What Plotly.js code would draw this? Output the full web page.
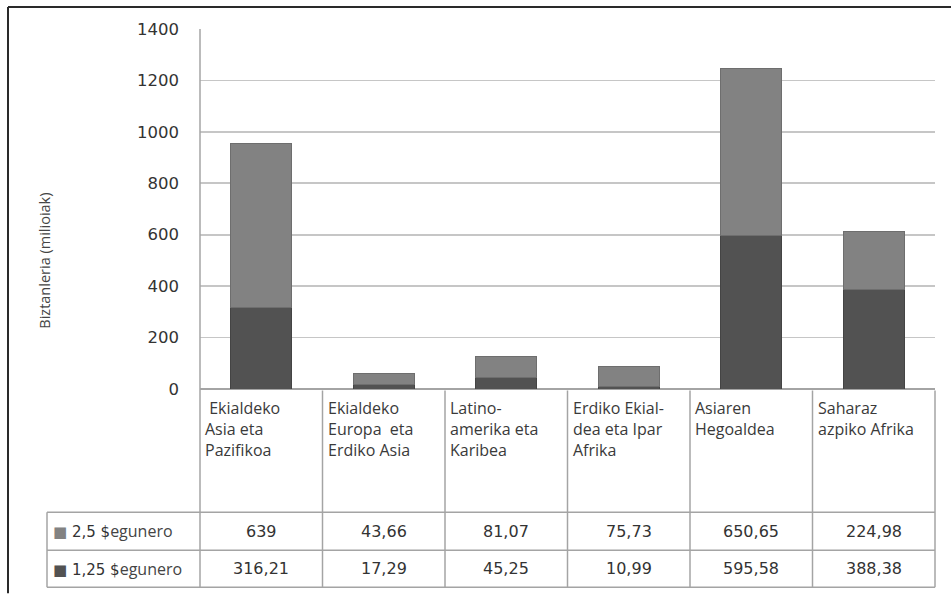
<!DOCTYPE html>
<html>
<head>
<meta charset="utf-8">
<script src="https://cdn.plot.ly/plotly-3.0.1.min.js"></script>
<style>html,body{margin:0;padding:0;background:#fff;}#chart{width:951px;height:594px;}</style>
</head>
<body>
<div id="chart"></div>
<script>
// ---- data ----
var categories = [
  ' Ekialdeko<br>Asia eta<br>Pazifikoa',
  'Ekialdeko<br>Europa  eta<br>Erdiko Asia',
  'Latino-<br>amerika eta<br>Karibea',
  'Erdiko Ekial-<br>dea eta Ipar<br>Afrika',
  'Asiaren<br>Hegoaldea',
  'Saharaz<br>azpiko Afrika'
];
var seriesAmounts = ['2,5 $', '1,25 $'];
var seriesUnit = 'egunero';
var values25 = [639, 43.66, 81.07, 75.73, 650.65, 224.98];
var values125 = [316.21, 17.29, 45.25, 10.99, 595.58, 388.38];
var yTicks = [0, 200, 400, 600, 800, 1000, 1200, 1400];
var yTitle = 'Biztanleria (milioiak)';

// ---- layout helpers (pixel -> paper) ----
var W = 951, H = 594;
var L = 200, R = 935, T = 29, B = 389.5;
function px(x) { return (x - L) / (R - L); }
function py(y) { return (B - y) / (B - T); }

var colTop = '#828282', colBot = '#525252';
var fmt = function (v) { return String(v).replace('.', ','); };
var n = categories.length;
var xs = categories.map(function (c, i) { return i; });

var traces = [
  { type: 'bar', x: xs, y: values125, name: seriesAmounts[1] + ' ' + seriesUnit,
    marker: { color: colBot, line: { color: '#444444', width: 1 } }, width: 0.5, hoverinfo: 'y' },
  { type: 'bar', x: xs, y: values25, name: seriesAmounts[0] + ' ' + seriesUnit,
    marker: { color: colTop, line: { color: '#6e6e6e', width: 1 } }, width: 0.5, hoverinfo: 'y' }
];

var lineCol = '#a4a4a4';
var shapes = [];
function seg(x0, y0, x1, y1, col, w) {
  shapes.push({ type: 'line', xref: 'paper', yref: 'paper',
    x0: px(x0), y0: py(y0), x1: px(x1), y1: py(y1),
    line: { color: col || lineCol, width: w || 1.5 } });
}
// outer frame
seg(8, 7, 951, 7, '#2a2a2a', 2);
seg(8, 7, 8, 594, '#2a2a2a', 2);
// plot left border
seg(L, T, L, 588);
// table
for (var i = 1; i <= n; i++) {
  var xx = L + (R - L) * i / n;
  seg(xx, 391, xx, 588);
}
seg(47, 513, 47, 588);
seg(47, 513, R, 513);
seg(47, 551, R, 551);
seg(47, 588, R, 588);

var annotations = [];
// y title
annotations.push({ xref: 'paper', yref: 'paper', x: px(45), y: py(261), text: yTitle,
  textangle: -90, showarrow: false, xanchor: 'center', yanchor: 'middle',
  font: { family: 'Open Sans', size: 14.5, color: '#444444' } });
// category labels
categories.forEach(function (c, i) {
  annotations.push({ xref: 'paper', yref: 'paper', x: i / n, y: py(396), text: c,
    showarrow: false, xanchor: 'left', yanchor: 'top', align: 'left', xshift: 3,
    font: { family: 'Open Sans', size: 16, color: '#3a3a3a' } });
});
// values rows
var rows = [values25, values125];
var rowCenters = [532, 569.5];
var swatch = [colTop, colBot];
rows.forEach(function (vals, r) {
  vals.forEach(function (v, i) {
    annotations.push({ xref: 'paper', yref: 'paper', x: (i + 0.5) / n, y: py(rowCenters[r]),
      text: fmt(v), showarrow: false, xanchor: 'center', yanchor: 'middle',
      font: { family: 'DejaVu Sans', size: 16, color: '#333333' } });
  });
  annotations.push({ xref: 'paper', yref: 'paper', x: px(51), y: py(rowCenters[r]),
    text: '<span style="color:' + swatch[r] + ';font-size:15px">■</span> ' + seriesAmounts[r] +
      '<span style="font-family:Open Sans;font-size:16px;color:#444">' + seriesUnit + '</span>',
    showarrow: false, xanchor: 'left', yanchor: 'middle',
    font: { family: 'DejaVu Sans', size: 15, color: '#333333' } });
});

var layout = {
  width: W, height: H,
  margin: { l: L, r: W - R, t: T, b: H - B, pad: 0 },
  paper_bgcolor: '#ffffff', plot_bgcolor: '#ffffff',
  barmode: 'stack', showlegend: false,
  xaxis: { range: [-0.5, n - 0.5], showticklabels: false, showgrid: false, zeroline: false,
    ticks: '', fixedrange: true },
  yaxis: { range: [0, 1400], tickvals: yTicks, ticktext: yTicks.map(String),
    showgrid: true, gridcolor: '#c6c6c6', gridwidth: 1.6, zeroline: true, zerolinecolor: lineCol,
    zerolinewidth: 1.6, ticks: '', ticklabelstandoff: 20,
    tickfont: { family: 'DejaVu Sans', size: 16.5, color: '#333333' }, fixedrange: true },
  shapes: shapes,
  annotations: annotations
};

Plotly.newPlot('chart', traces, layout, { displayModeBar: false, staticPlot: true });
</script>
</body>
</html>
